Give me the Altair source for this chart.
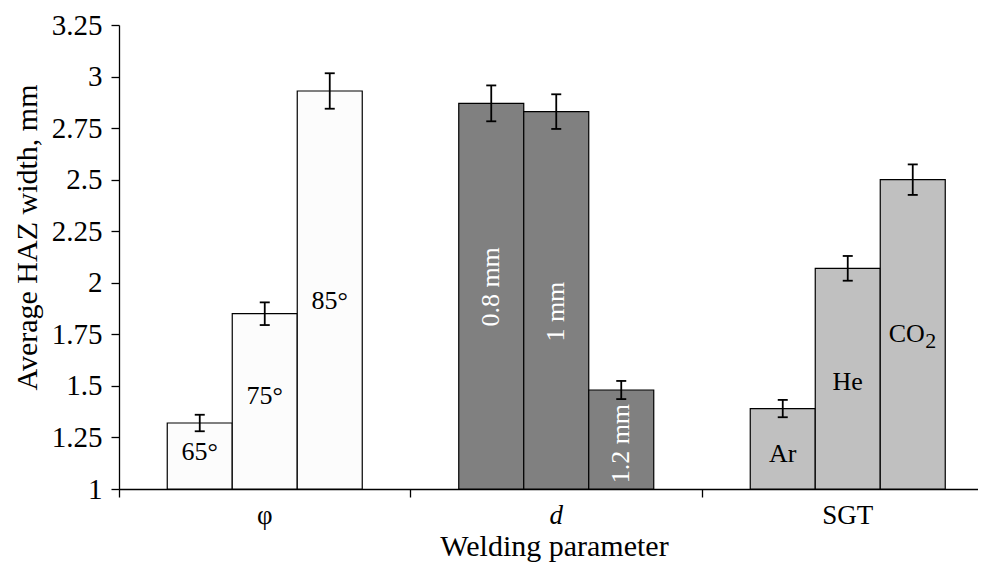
import altair as alt
import pandas as pd

# ---- data ----
groups = ["φ", "d", "SGT"]
group_colors = ["#FCFCFC", "#808080", "#C0C0C0"]
bar_group = ["φ", "φ", "φ", "d", "d", "d", "SGT", "SGT", "SGT"]
bar_labels = ["65°", "75°", "85°", "0.8 mm", "1 mm", "1.2 mm", "Ar", "He", "CO"]
bar_subscripts = ["", "", "", "", "", "", "", "", "2"]
values = [1.32, 1.85, 2.93, 2.87, 2.83, 1.48, 1.39, 2.07, 2.50]
errors = [0.04, 0.055, 0.086, 0.087, 0.084, 0.044, 0.042, 0.06, 0.074]
label_y = [1.18, 1.45, 1.91, 1.98, 1.86, 1.22, 1.17, 1.52, 1.75]
y_ticks = [1, 1.25, 1.5, 1.75, 2, 2.25, 2.5, 2.75, 3, 3.25]

# ---- layout constants ----
W, H = 859, 464
BAND_PX = 291.5
BW = 65 / BAND_PX          # bar width in category units
CAP = 5 / BAND_PX          # half cap width
FONT = "Liberation Serif"

rows = []
for i, (g, lab, sub, v, e, ly) in enumerate(
        zip(bar_group, bar_labels, bar_subscripts, values, errors, label_y)):
    gi = groups.index(g)
    k = i % 3
    xc = gi + 0.5 + (k - 1) * BW
    rows.append(dict(group=g, label=lab, sub=sub, value=v, err=e, ly=ly,
                     x0=xc - BW / 2, x1=xc + BW / 2, xc=xc,
                     lo=v - e, hi=v + e, c0=xc - CAP, c1=xc + CAP,
                     rot=(g == "d"), hassub=(sub != "")))
df = pd.DataFrame(rows)
gdf = pd.DataFrame({"g": groups, "gx": [i + 0.5 for i in range(len(groups))],
                    "italic": [g == "d" for g in groups]})

xscale = alt.Scale(domain=[0, W / BAND_PX], nice=False, zero=False)
yscale = alt.Scale(domain=[1, 3.25], nice=False, zero=False)

xaxis = alt.Axis(values=[0, 1, 2], labels=False, tickSize=8, grid=False,
                 domainColor="black", tickColor="black", domainWidth=1.3,
                 tickWidth=1.3, title="Welding parameter",
                 titleFont=FONT, titleFontSize=30, titleFontWeight="normal",
                 titleColor="black", titleY=66, titleX=435,
                 titleBaseline="alphabetic", titleAlign="center")
yaxis = alt.Axis(values=y_ticks, labelExpr="'' + datum.value", tickSize=8,
                 labelPadding=9, grid=False, domainColor="black", tickColor="black",
                 domainWidth=1.3, tickWidth=1.3,
                 labelFont=FONT, labelFontSize=29, labelColor="black",
                 title="Average HAZ width, mm", titleFont=FONT,
                 titleFontSize=30, titleFontWeight="normal", titleColor="black",
                 titleAngle=270, titleX=-92, titleY=212,
                 titleAlign="center", titleBaseline="middle")


def X(field):
    return alt.X(field, scale=xscale, axis=xaxis)


def Y(field):
    return alt.Y(field, scale=yscale, axis=yaxis)


base = alt.Chart(df)

bars = base.mark_bar(stroke="black", strokeWidth=1.2).encode(
    x=X("x0:Q"), x2="x1:Q",
    y=Y("value:Q"), y2=alt.datum(1),
    color=alt.Color("group:N", scale=alt.Scale(domain=groups, range=group_colors),
                    legend=None),
)

err_rule = base.mark_rule(color="black", strokeWidth=1.8).encode(
    x=X("xc:Q"), y=Y("lo:Q"), y2="hi:Q",
)
cap_lo = base.mark_rule(color="black", strokeWidth=1.8).encode(
    x=X("c0:Q"), x2="c1:Q", y=Y("lo:Q"),
)
cap_hi = base.mark_rule(color="black", strokeWidth=1.8).encode(
    x=X("c0:Q"), x2="c1:Q", y=Y("hi:Q"),
)

labels_flat = base.transform_filter("!datum.rot && !datum.hassub").mark_text(
    font=FONT, fontSize=26, color="black", align="center", baseline="middle"
).encode(x=X("xc:Q"), y=Y("ly:Q"), text="label:N")

labels_main_sub = base.transform_filter("datum.hassub").mark_text(
    font=FONT, fontSize=26, color="black", align="center", baseline="middle", dx=-6
).encode(x=X("xc:Q"), y=Y("ly:Q"), text="label:N")

labels_sub = base.transform_filter("datum.hassub").mark_text(
    font=FONT, fontSize=22, color="black", align="center", baseline="middle",
    dx=18, dy=7
).encode(x=X("xc:Q"), y=Y("ly:Q"), text="sub:N")

labels_rot = base.transform_filter("datum.rot").mark_text(
    font=FONT, fontSize=26, color="white", align="center", baseline="middle", angle=270
).encode(x=X("xc:Q"), y=Y("ly:Q"), text="label:N")

gbase = alt.Chart(gdf)
cat_plain = gbase.transform_filter("!datum.italic").mark_text(
    font=FONT, fontSize=27, color="black", align="center", baseline="middle"
).encode(x=X("gx:Q"), y=alt.value(H + 27), text="g:N")
cat_italic = gbase.transform_filter("datum.italic").mark_text(
    font=FONT, fontSize=27, color="black", align="center", baseline="middle",
    fontStyle="italic"
).encode(x=X("gx:Q"), y=alt.value(H + 27), text="g:N")

chart = alt.layer(
    bars, err_rule, cap_lo, cap_hi, labels_flat, labels_main_sub, labels_sub,
    labels_rot, cat_plain, cat_italic
).properties(
    width=W, height=H,
    padding={"left": 111, "top": 17, "right": 0, "bottom": 76},
    autosize=alt.AutoSizeParams(type="none"),
    background="white",
).configure_view(stroke=None)

chart.save("out.html", embed_options={"renderer": "svg", "actions": False})
